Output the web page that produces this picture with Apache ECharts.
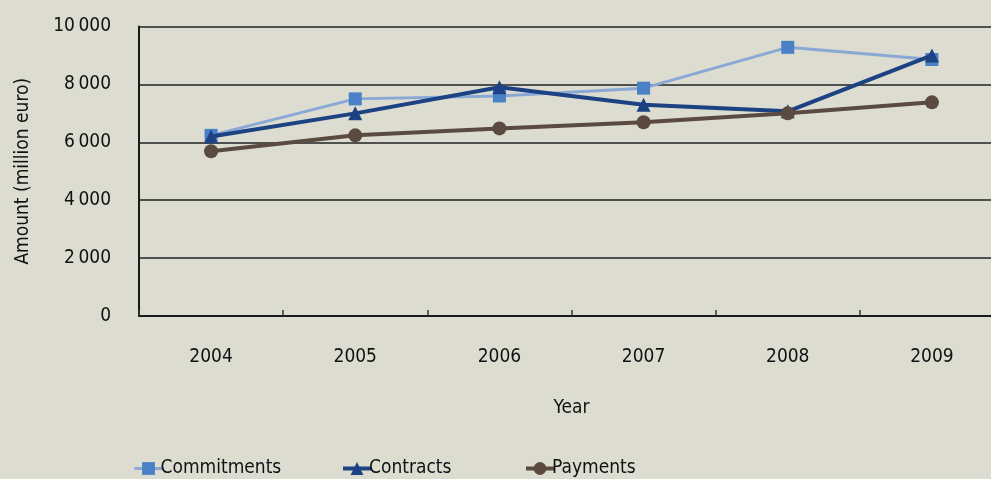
<!DOCTYPE html>
<html><head><meta charset="utf-8">
<script src="https://cdn.jsdelivr.net/npm/echarts@6/dist/echarts.min.js"></script>
<style>html,body{margin:0;padding:0;background:#dcdcd1}#c{width:991px;height:479px}</style>
</head><body><div id="c"></div>
<script>
const years = ['2004','2005','2006','2007','2008','2009'];
const commitments = [6240, 7500, 7600, 7870, 9280, 8860];
const contracts = [6200, 7000, 7900, 7300, 7070, 9000];
const payments = [5690, 6240, 6480, 6690, 7000, 7380];
const yTicks = [0, 2000, 4000, 6000, 8000, 10000];

const FONT = '"DejaVu Sans"';
const TXT = {fontFamily:FONT, fontStyle:'condensed', fontSize:19, color:'#111'};
const chart = echarts.init(document.getElementById('c'), null, {renderer:'canvas'});
const fmt = v => v >= 1000 ? (Math.floor(v/1000) + '\u2009' + String(v%1000).padStart(3,'0')) : String(v);
const legendBase = {top: 454, itemWidth: 28, itemHeight: 16, itemGap: 0,
  textStyle:Object.assign({padding:[0,0,0,-7]}, TXT)};
chart.setOption({
  backgroundColor:'#dcdcd1',
  animation:false,
  grid:{left:139, top:26.5, width:865, height:289.5, containLabel:false, outerBoundsMode:'none'},
  legend:[
    Object.assign({left:128, data:['Commitments'], lineStyle:{width:3}}, legendBase),
    Object.assign({left:336, data:['Contracts'], lineStyle:{width:4}}, legendBase),
    Object.assign({left:519, data:['Payments'], lineStyle:{width:4}}, legendBase)
  ],
  xAxis:{type:'category', data:years, boundaryGap:true,
    name:'Year', nameLocation:'middle', nameGap:83,
    nameTextStyle:TXT,
    axisLine:{lineStyle:{color:'#1a1a1a', width:2}},
    axisTick:{show:true, inside:true, length:6, lineStyle:{color:'#333', width:1.5}},
    axisLabel:Object.assign({margin:32}, TXT)
  },
  yAxis:{type:'value', min:0, max:10000, interval:2000,
    name:'Amount (million euro)', nameLocation:'middle', nameGap:106, nameRotate:90,
    nameTextStyle:TXT,
    axisLine:{show:true, lineStyle:{color:'#1a1a1a', width:2}},
    axisTick:{show:false},
    splitLine:{lineStyle:{color:'#222', width:1.5}},
    axisLabel:Object.assign({margin:28, formatter:v=>yTicks.includes(v)?fmt(v):''}, TXT)
  },
  series:[
    {name:'Commitments', type:'line', data:commitments, symbol:'rect', symbolSize:13,
     lineStyle:{color:'#8aa8d6', width:3}, itemStyle:{color:'#4a80c6'}, z:2},
    {name:'Contracts', type:'line', data:contracts, symbol:'triangle', symbolSize:14,
     lineStyle:{color:'#1d4283', width:4}, itemStyle:{color:'#1d4283'}, z:3},
    {name:'Payments', type:'line', data:payments, symbol:'circle', symbolSize:14,
     lineStyle:{color:'#5a4a40', width:4}, itemStyle:{color:'#5a4a40'}, z:4}
  ]
});
</script></body></html>
